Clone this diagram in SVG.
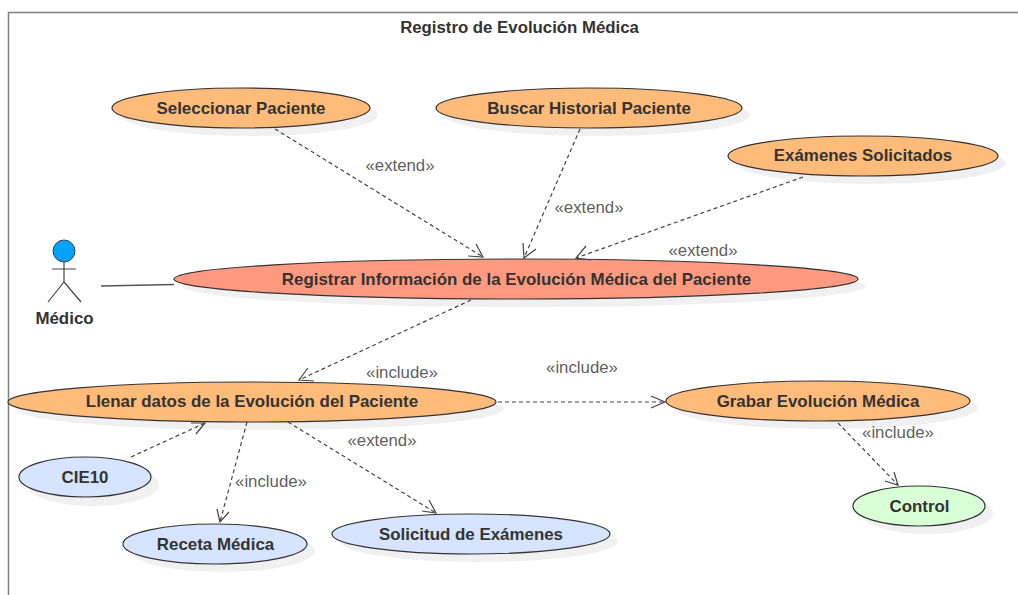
<svg xmlns="http://www.w3.org/2000/svg" width="1018" height="595" viewBox="0 0 1018 595">
<style>
text{font-family:"Liberation Sans",Arial,sans-serif}
.n{font-size:16.900px;font-weight:bold;fill:#333;text-anchor:middle}
.l{font-size:16.800px;fill:#5f5f5f;text-anchor:middle}
.e{stroke:#333;stroke-width:1.2}
.s{fill:#f0f0f0;stroke:none}
.o{fill:#ffbb7a}.b{fill:#d6e4ff}
.c{fill:none;stroke:#444;stroke-width:1.2;stroke-dasharray:4 3}
.h{fill:none;stroke:#444;stroke-width:1.2}
.a{fill:none;stroke:#555;stroke-width:1.5}
</style>
<rect width="1018" height="595" fill="#fff"/>
<path d="M8.500 595V12.500H1018" fill="none" stroke="#808080" stroke-width="1.5"/>
<text x="519.500" y="33" text-anchor="middle" font-size="16.800" font-weight="bold" fill="#333" id="title">Registro de Evolución Médica</text>
<g id="actor-medico">
<circle cx="64" cy="251" r="11" fill="#00a2ff" stroke="#444"/>
<path d="M64 262V282M52 269H76M64 282L48 302M64 282L81 302" fill="none" stroke="#444" stroke-width="1.2"/>
<text class="n" x="64.500" y="324">Médico</text>
</g>
<g id="uc-seleccionar"><ellipse class="s" cx="249" cy="115" rx="129" ry="21"/><ellipse class="e o" cx="241" cy="108" rx="129" ry="20"/><text class="n" x="241" y="114">Seleccionar Paciente</text></g>
<g id="uc-buscar"><ellipse class="s" cx="597" cy="115" rx="153" ry="21"/><ellipse class="e o" cx="589" cy="108" rx="153" ry="20"/><text class="n" x="589" y="114">Buscar Historial Paciente</text></g>
<g id="uc-examenes"><ellipse class="s" cx="871" cy="163" rx="135" ry="21"/><ellipse class="e o" cx="863" cy="156" rx="135" ry="20"/><text class="n" x="863" y="161">Exámenes Solicitados</text></g>
<g id="uc-registrar"><ellipse class="s" cx="524" cy="286" rx="342" ry="21"/><ellipse class="e" fill="#ff9980" cx="516" cy="279" rx="342" ry="20"/><text class="n" x="516.500" y="285">Registrar Información de la Evolución Médica del Paciente</text></g>
<g id="uc-llenar"><ellipse class="s" cx="260" cy="409" rx="244" ry="21"/><ellipse class="e o" cx="252" cy="402" rx="244" ry="20"/><text class="n" x="252" y="407">Llenar datos de la Evolución del Paciente</text></g>
<g id="uc-grabar"><ellipse class="s" cx="826" cy="408" rx="152" ry="21"/><ellipse class="e o" cx="818" cy="401" rx="152" ry="20"/><text class="n" x="818" y="407">Grabar Evolución Médica</text></g>
<g id="uc-cie10"><ellipse class="s" cx="93" cy="485" rx="66" ry="21"/><ellipse class="e b" cx="85" cy="477" rx="66" ry="20"/><text class="n" x="85" y="483">CIE10</text></g>
<g id="uc-receta"><ellipse class="s" cx="223" cy="551" rx="92" ry="21"/><ellipse class="e b" cx="215" cy="544" rx="92" ry="20"/><text class="n" x="215.500" y="550">Receta Médica</text></g>
<g id="uc-solicitud"><ellipse class="s" cx="479" cy="541" rx="139" ry="21"/><ellipse class="e b" cx="471" cy="534" rx="139" ry="20"/><text class="n" x="471" y="540">Solicitud de Exámenes</text></g>
<g id="uc-control"><ellipse class="s" cx="927" cy="513" rx="66" ry="21"/><ellipse class="e" fill="#d9ffd6" cx="919" cy="506" rx="66" ry="20"/><text class="n" x="919.500" y="512">Control</text></g>
<g id="connectors">
<path class="a" d="M101 286 L174 284.500"/>
<path class="c" d="M275 129L483 257"/><path class="h" d="M468 256L483 257L476 244"/>
<path class="c" d="M580 129L524 258"/><path class="h" d="M523 243L524 258L536 249"/>
<path class="c" d="M803 177L576 258"/><path class="h" d="M586 246L576 258L591 260"/>
<path class="c" d="M471 300L299 380"/><path class="h" d="M308 368L299 380L314 381"/>
<path class="c" d="M498 402L665 402"/><path class="h" d="M651 396L665 402L651 408"/>
<path class="c" d="M131 457L205 423"/><path class="h" d="M191 423L205 423L196 434"/>
<path class="c" d="M247 422L220 522"/><path class="h" d="M217 509L220 522L229 512"/>
<path class="c" d="M288 422L436 513"/><path class="h" d="M422 511L436 513L429 500"/>
<path class="c" d="M838 423L898 485"/><path class="h" d="M885 481L898 485L894 472"/>
</g>
<g id="labels">
<text class="l" x="400" y="171">«extend»</text>
<text class="l" x="589" y="213">«extend»</text>
<text class="l" x="703" y="256">«extend»</text>
<text class="l" x="402" y="378">«include»</text>
<text class="l" x="582" y="373">«include»</text>
<text class="l" x="382" y="446">«extend»</text>
<text class="l" x="271" y="487">«include»</text>
<text class="l" x="898" y="438">«include»</text>
</g>
</svg>
